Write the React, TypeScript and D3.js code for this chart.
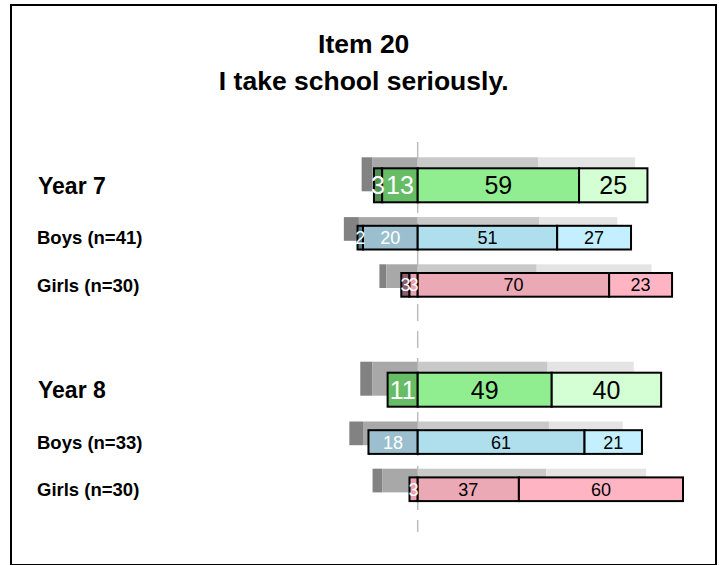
import React from "react";
import * as d3 from "d3";

const titleLines = ["Item 20", "I take school seriously."];
const groups = ["Year 7", "Year 8"];
const kinds = ["year", "boys", "girls"];
const rowLabels = ["Year 7", "Boys (n=41)", "Girls (n=30)", "Year 8", "Boys (n=33)", "Girls (n=30)"];
const rowGroup = ["Year 7", "Year 7", "Year 7", "Year 8", "Year 8", "Year 8"];
const rowKind = ["year", "boys", "girls", "year", "boys", "girls"];

// main responses (%)
const stronglyDisagree = [3, 2, 3, 0, 0, 0];
const disagree = [13, 20, 3, 11, 18, 3];
const agree = [59, 51, 70, 49, 61, 37];
const stronglyAgree = [25, 27, 23, 40, 21, 60];

// comparison (grey) responses (%)
const cmpStronglyDisagree = [4, 5.5, 2.5, 4.5, 5, 3.5];
const cmpDisagree = [16.5, 21.5, 11.5, 16.5, 20, 13];
const cmpAgree = [44, 44.5, 43.5, 47.5, 48, 47];
const cmpStronglyAgree = [35.5, 28.5, 42, 31.5, 27, 36.5];

const palettes: Record<string, string[]> = {
  year: ["#4f8f4f", "#66bd66", "#90ee90", "#d4ffd4"],
  boys: ["#4d7d8c", "#9bbfcf", "#afdeed", "#c3efff"],
  girls: ["#8e5d6a", "#e8a2b1", "#eba8b5", "#ffb4c3"],
};
const greys = ["#828282", "#a8a8a8", "#c9c9c9", "#e4e4e4"];
const FONT = "'Liberation Sans', Arial, Helvetica, sans-serif";

export default function App() {
  const x = d3.scaleLinear().domain([0, 100]).range([417.7, 417.7 + 273.5]);
  const gy = d3.scalePoint<string>().domain(groups).range([202.3, 406.7]);
  const sy = d3.scalePoint<string>().domain(kinds).range([0, 94.4]);

  const rows = rowLabels.map((label, i) => {
    const isYear = rowKind[i] === "year";
    const h = isYear ? 34 : 23.7;
    const bottom = (gy(rowGroup[i]) as number) + (sy(rowKind[i]) as number);
    const top = bottom - h;
    const greyOff = isYear ? 11 : 8.7;
    return { label, i, isYear, h, top, bottom, greyOff };
  });

  return (
    <svg width={719} height={565} style={{ position: "absolute", left: 0, top: 0 }} fontFamily={FONT}>
      <rect x={0} y={0} width={719} height={565} fill="#fff" />
      <rect x={11} y={5} width={705} height={560} fill="none" stroke="#000" strokeWidth={2} />
      {titleLines.map((t, k) => (
        <text key={t} x={363.7} y={53.3 + k * 36.7} textAnchor="middle" fontWeight="bold" fontSize={26.5} fill="#000">
          {t}
        </text>
      ))}
      <line x1={x(0)} x2={x(0)} y1={142} y2={532} stroke="#bdbdbd" strokeWidth={1.5} strokeDasharray="17,10" />
      {rows.map((r) => {
        const i = r.i;
        const gTop = r.top - r.greyOff;
        const csd = cmpStronglyDisagree[i], cd = cmpDisagree[i], ca = cmpAgree[i], csa = cmpStronglyAgree[i];
        const segs = [
          { x0: x(-(csd + cd)), x1: x(-cd), c: greys[0] },
          { x0: x(-cd), x1: x(0), c: greys[1] },
          { x0: x(0), x1: x(ca), c: greys[2] },
          { x0: x(ca), x1: x(ca + csa), c: greys[3] },
        ];
        return (
          <g key={"g" + i}>
            {segs.map((s, k) => (
              <rect key={k} x={s.x0} y={gTop} width={s.x1 - s.x0} height={r.h} fill={s.c} />
            ))}
          </g>
        );
      })}
      {rows.map((r) => {
        const i = r.i;
        const pal = palettes[rowKind[i]];
        const sd = stronglyDisagree[i], d = disagree[i], a = agree[i], sa = stronglyAgree[i];
        const segs = [
          { v: sd, x0: x(-(sd + d)), x1: x(-d), c: pal[0], tc: "#fff" },
          { v: d, x0: x(-d), x1: x(0), c: pal[1], tc: "#fff" },
          { v: a, x0: x(0), x1: x(a), c: pal[2], tc: "#000" },
          { v: sa, x0: x(a), x1: x(a + sa), c: pal[3], tc: "#000" },
        ].filter((s) => s.v > 0);
        const fs = r.isYear ? 25 : 18;
        const cy = r.top + r.h / 2;
        return (
          <g key={"m" + i}>
            {segs.map((s, k) => (
              <rect key={k} x={s.x0} y={r.top} width={s.x1 - s.x0} height={r.h} fill={s.c} stroke="#000" strokeWidth={2} />
            ))}
            {segs.map((s, k) => (
              <text key={"t" + k} x={(s.x0 + s.x1) / 2} y={cy + fs * 0.36} textAnchor="middle" fontSize={fs} fill={s.tc}>
                {s.v}
              </text>
            ))}
          </g>
        );
      })}
      {rows.map((r) => {
        const fs = r.isYear ? 23 : 18.5;
        const cy = r.top + r.h / 2;
        return (
          <text key={"l" + r.i} x={r.isYear ? 38 : 37} y={cy + fs * 0.36} fontSize={fs} fontWeight="bold" fill="#000">
            {r.label}
          </text>
        );
      })}
    </svg>
  );
}
